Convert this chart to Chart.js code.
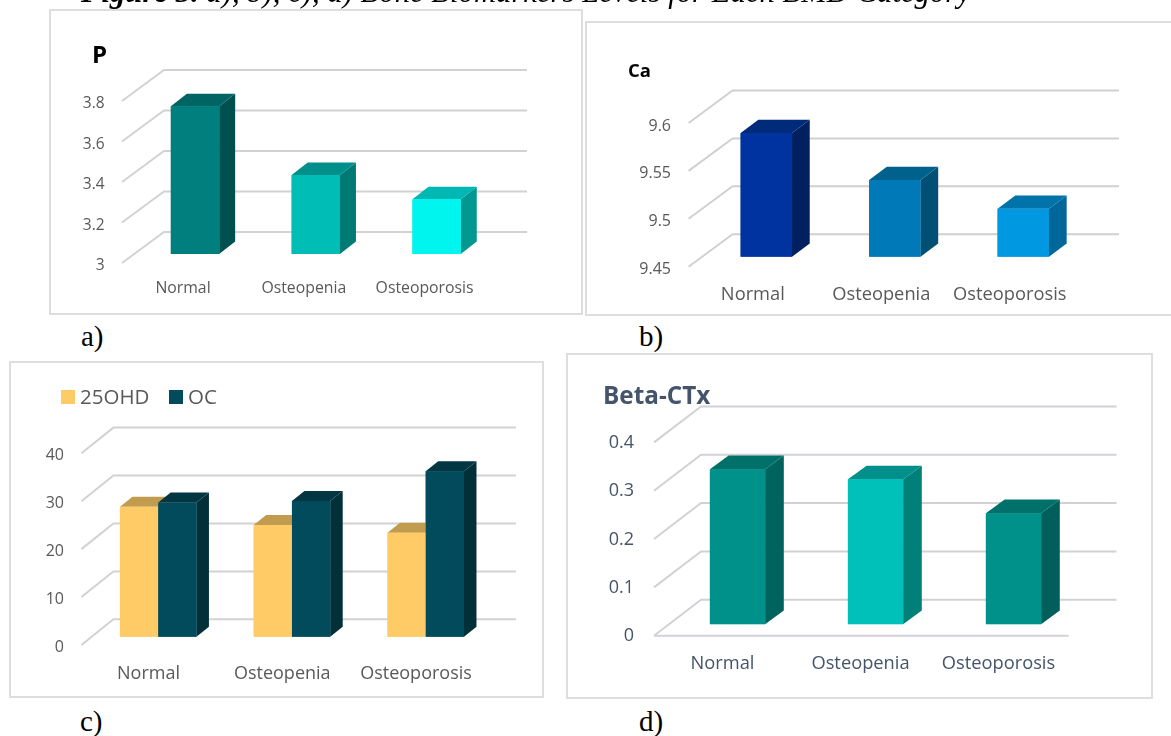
<!DOCTYPE html>
<html>
<head>
<meta charset="utf-8">
<script src="https://cdn.jsdelivr.net/npm/chart.js@4"></script>
<style>
  html, body { margin: 0; padding: 0; background: #fff; overflow: hidden; }
  #pagina { position: relative; width: 1171px; height: 736px; overflow: hidden; }
  .tarjeta { position: absolute; box-sizing: border-box; border: 2px solid #dedede; background: #fff; }
  .tarjeta canvas { position: absolute; left: -2px; top: -2px; }
  .texto { position: absolute; font-family: "Liberation Serif", serif; color: #000; white-space: nowrap; }
</style>
</head>
<body>
<div id="pagina">
  <div class="tarjeta" id="t0"><canvas id="graficoP"></canvas></div>
  <div class="tarjeta" id="t1"><canvas id="graficoCa"></canvas></div>
  <div class="tarjeta" id="t2"><canvas id="graficoVitD"></canvas></div>
  <div class="tarjeta" id="t3"><canvas id="graficoCtx"></canvas></div>
  <div class="texto" style="left:81px;top:-25px;font-size:30.7px;font-style:italic"><b>Figure 3.</b> a), b), c), d) Bone Biomarkers Levels for Each BMD Category</div>
  <div class="texto" style="left:81px;top:320px;font-size:29px">a)</div>
  <div class="texto" style="left:639px;top:320px;font-size:29px">b)</div>
  <div class="texto" style="left:80px;top:705px;font-size:29px">c)</div>
  <div class="texto" style="left:639px;top:705px;font-size:29px">d)</div>
</div>
<script>
  // Datos
  const categorias = ['Normal', 'Osteopenia', 'Osteoporosis'];

  const valoresP = [3.73, 3.39, 3.27];
  const ticksP = [3, 3.2, 3.4, 3.6, 3.8];

  const valoresCa = [9.579, 9.53, 9.5];
  const ticksCa = [9.45, 9.5, 9.55, 9.6];

  const valores25OHD = [27.1, 23.3, 21.7];
  const valoresOC = [28, 28.3, 34.5];
  const ticksVitD = [0, 10, 20, 30, 40];

  const valoresCtx = [0.321, 0.30, 0.23];
  const ticksCtx = [0, 0.1, 0.2, 0.3, 0.4];

  // Cara frontal, superior y lateral de cada barra
  const coloresP = { frente: ['#007f7f', '#00bdb6', '#00f5ee'], arriba: ['#006464', '#008f8a', '#00b8b3'], lado: ['#005050', '#007a74', '#009890'] };
  const coloresCa = { frente: ['#0033a0', '#0079b8', '#0098e0'], arriba: ['#002a7a', '#00628c', '#0073aa'], lado: ['#002060', '#005075', '#00679a'] };
  const colores25OHD = { frente: ['#fecb66', '#fecb66', '#fecb66'], arriba: ['#c19c4e', '#c19c4e', '#c19c4e'], lado: ['#c19c4e', '#c19c4e', '#c19c4e'] };
  const coloresOC = { frente: ['#024b5c', '#024b5c', '#024b5c'], arriba: ['#013642', '#013642', '#013642'], lado: ['#013039', '#013039', '#013039'] };
  const coloresCtx = { frente: ['#00918a', '#00c0ba', '#00918a'], arriba: ['#007069', '#008f8a', '#00706a'], lado: ['#00635e', '#008079', '#005f5b'] };

  // Dibuja la profundidad: paredes antes de las barras, caras despues
  const plugin3d = {
    id: 'caja3d',
    afterLayout(chart, args, op) {
      // El titulo va alineado a su propia x, no al borde del canvas
      if (chart.titleBlock && op.xTitulo) chart.titleBlock.left = op.xTitulo;
    },
    beforeDatasetsDraw(chart, args, op) {
      const ctx = chart.ctx;
      const escala = chart.scales.y;
      ctx.save();
      ctx.lineWidth = 2;
      ctx.strokeStyle = op.colorRejilla;
      op.marcas.forEach(v => {
        const y = escala.getPixelForValue(v) + op.bajada;
        ctx.beginPath();
        ctx.moveTo(op.xFrente, y);
        ctx.lineTo(op.xFrente + op.paredX, y - op.paredY);
        ctx.lineTo(op.xFin, y - op.paredY);
        ctx.stroke();
      });
      if (op.xSuelo) {
        const y0 = escala.getPixelForValue(op.marcas[0]) + op.bajada;
        ctx.beginPath();
        ctx.moveTo(op.xFrente, y0);
        ctx.lineTo(op.xSuelo, y0);
        ctx.stroke();
      }
      ctx.restore();
    },
    afterDatasetsDraw(chart, args, op) {
      const ctx = chart.ctx;
      chart.data.datasets.forEach((ds, d) => {
        const barras = chart.getDatasetMeta(d).data;
        const caras = op.caras[d];
        barras.forEach((barra, i) => {
          const p = barra.getProps(['x', 'y', 'base', 'width']);
          const izq = p.x - p.width / 2;
          const der = p.x + p.width / 2;
          ctx.fillStyle = caras.lado[i];
          ctx.beginPath();
          ctx.moveTo(der, p.y);
          ctx.lineTo(der + op.barraX, p.y - op.barraY);
          ctx.lineTo(der + op.barraX, p.base - op.barraY);
          ctx.lineTo(der, p.base);
          ctx.closePath();
          ctx.fill();
          ctx.fillStyle = caras.arriba[i];
          ctx.beginPath();
          ctx.moveTo(izq, p.y);
          ctx.lineTo(izq + op.barraX, p.y - op.barraY);
          ctx.lineTo(der + op.barraX, p.y - op.barraY);
          ctx.lineTo(der, p.y);
          ctx.closePath();
          ctx.fill();
          barra.draw(ctx);
        });
      });
      // Leyenda de la grafica c
      if (op.leyenda) {
        const l = op.leyenda;
        ctx.save();
        ctx.font = l.fuente + ' "Open Sans", sans-serif';
        ctx.textBaseline = 'middle';
        chart.data.datasets.forEach((ds, d) => {
          ctx.fillStyle = op.caras[d].frente[0];
          ctx.fillRect(l.x[d], l.y, l.lado, l.lado);
          ctx.fillStyle = l.color;
          ctx.fillText(ds.label, l.x[d] + l.lado + l.hueco, l.y + l.lado / 2 + 1);
        });
        ctx.restore();
      }
    }
  };

  const crearGrafico = (idCanvas, idTarjeta, cfg) => {
    const t = cfg.tarjeta, a = cfg.area;
    const tarjeta = document.getElementById(idTarjeta);
    tarjeta.style.left = t.x + 'px';
    tarjeta.style.top = t.y + 'px';
    tarjeta.style.width = t.w + 'px';
    tarjeta.style.height = t.h + 'px';

    const canvas = document.getElementById(idCanvas);
    canvas.width = t.w;
    canvas.height = t.h;
    canvas.style.width = t.w + 'px';
    canvas.style.height = t.h + 'px';

    const titulo = cfg.titulo;
    const altoTitulo = titulo ? titulo.tam * 1.2 : 0;
    const arribaTitulo = titulo ? titulo.yCentro - t.y - altoTitulo / 2 : a.arriba - t.y;
    const opcionesPlugin = Object.assign({}, cfg.p3d, {
      xFrente: cfg.p3d.xFrente - t.x,
      xFin: cfg.p3d.xFin - t.x,
      xSuelo: cfg.p3d.xSuelo ? cfg.p3d.xSuelo - t.x : 0,
      xTitulo: titulo ? titulo.x - t.x : 0,
      marcas: cfg.marcas,
      caras: cfg.series.map(s => s.caras),
      leyenda: cfg.leyenda ? Object.assign({}, cfg.leyenda, { x: cfg.leyenda.x.map(v => v - t.x), y: cfg.leyenda.y - t.y }) : null
    });

    new Chart(canvas, {
      type: 'bar',
      data: {
        labels: categorias,
        datasets: cfg.series.map(s => ({
          label: s.nombre,
          data: s.valores,
          base: cfg.marcas[0],
          backgroundColor: s.caras.frente,
          categoryPercentage: cfg.anchoGrupo,
          barPercentage: 1
        }))
      },
      options: {
        responsive: false,
        animation: false,
        events: [],
        layout: {
          padding: {
            left: 0,
            top: arribaTitulo,
            right: t.x + t.w - a.der,
            bottom: 0
          }
        },
        scales: {
          x: {
            grid: { display: false },
            border: { display: false },
            ticks: {
              color: cfg.colorTexto,
              font: { family: '"Open Sans", sans-serif', size: cfg.tamX },
              labelOffset: cfg.despX,
              maxRotation: 0,
              autoSkip: false,
              padding: cfg.rellenoX
            },
            afterFit: s => { s.height = t.y + t.h - a.abajo; }
          },
          y: {
            min: cfg.marcas[0],
            max: cfg.marcas[cfg.marcas.length - 1],
            grid: { display: false, drawTicks: false },
            border: { display: false },
            afterBuildTicks: s => { s.ticks = cfg.marcas.map(value => ({ value })); },
            ticks: {
              color: cfg.colorTexto,
              font: { family: '"Open Sans", sans-serif', size: cfg.tamY },
              labelOffset: cfg.p3d.bajada + cfg.ajusteY,
              callback: v => String(v),
              padding: a.izq - cfg.xTexto
            },
            afterFit: s => { s.width = a.izq - t.x; }
          }
        },
        plugins: {
          legend: { display: false },
          tooltip: { enabled: false },
          title: {
            display: !!titulo,
            text: titulo ? titulo.texto : '',
            align: 'start',
            color: titulo ? titulo.color : '#000',
            font: { family: '"Open Sans", sans-serif', size: titulo ? titulo.tam : 12, weight: 'bold', lineHeight: 1.2 },
            padding: { top: 0, bottom: titulo ? a.arriba - titulo.yCentro - altoTitulo / 2 : 0 }
          },
          caja3d: opcionesPlugin
        }
      },
      plugins: [plugin3d]
    });
  };

  crearGrafico('graficoP', 't0', {
    tarjeta: { x: 49, y: 9, w: 534, h: 306 },
    area: { izq: 134.6, der: 497, arriba: 92, abajo: 254 },
    titulo: { texto: 'P', x: 92, yCentro: 56.5, tam: 24, color: '#000000' },
    series: [{ nombre: 'P', valores: valoresP, caras: coloresP }],
    marcas: ticksP,
    anchoGrupo: 0.4,
    colorTexto: '#595959',
    xTexto: 104.6,
    tamX: 15.8, tamY: 15.5, despX: -12, rellenoX: 17, ajusteY: 3,
    p3d: { colorRejilla: '#d2d2d2', bajada: 9, xFrente: 122, paredX: 42, paredY: 31, xFin: 527, barraX: 16, barraY: 12.5 }
  });

  crearGrafico('graficoCa', 't1', {
    tarjeta: { x: 585, y: 21, w: 590, h: 295 },
    area: { izq: 702.1, der: 1087.5, arriba: 113, abajo: 256.7 },
    titulo: { texto: 'Ca', x: 628, yCentro: 71.5, tam: 18.5, color: '#000000' },
    series: [{ nombre: 'Ca', valores: valoresCa, caras: coloresCa }],
    marcas: ticksCa,
    anchoGrupo: 0.4,
    colorTexto: '#595959',
    xTexto: 671,
    tamX: 18.3, tamY: 16, despX: -13.5, rellenoX: 19, ajusteY: 3,
    p3d: { colorRejilla: '#d0d0d0', bajada: 10, xFrente: 688.6, paredX: 44, paredY: 32.5, xFin: 1119, barraX: 17.7, barraY: 13.3 }
  });

  crearGrafico('graficoVitD', 't2', {
    tarjeta: { x: 9, y: 361, w: 535, h: 337 },
    area: { izq: 91.3, der: 492.6, arriba: 445, abajo: 636.7 },
    series: [
      { nombre: '25OHD', valores: valores25OHD, caras: colores25OHD },
      { nombre: 'OC', valores: valoresOC, caras: coloresOC }
    ],
    marcas: ticksVitD,
    anchoGrupo: 0.572,
    colorTexto: '#595959',
    xTexto: 64,
    tamX: 18, tamY: 16, despX: -9.7, rellenoX: 18, ajusteY: 2.5,
    leyenda: { x: [61, 169], y: 390, lado: 14, hueco: 5, fuente: '20.5px', color: '#595959' },
    p3d: { colorRejilla: '#d2d2d2', bajada: 8.3, xFrente: 81.4, paredX: 32, paredY: 25.7, xFin: 516, barraX: 12.5, barraY: 10 }
  });

  crearGrafico('graficoCtx', 't3', {
    tarjeta: { x: 566, y: 353, w: 587, h: 346 },
    area: { izq: 668.5, der: 1082.5, arriba: 431, abajo: 624.3 },
    titulo: { texto: 'Beta-CTx', x: 603, yCentro: 397, tam: 24.3, color: '#44546a' },
    series: [{ nombre: 'Beta-CTx', valores: valoresCtx, caras: coloresCtx }],
    marcas: ticksCtx,
    anchoGrupo: 0.4,
    colorTexto: '#44546a',
    xTexto: 634,
    tamX: 18.3, tamY: 18, despX: -15, rellenoX: 21, ajusteY: 0.5,
    p3d: { colorRejilla: '#d0d2d6', bajada: 11.4, xFrente: 654, paredX: 47, paredY: 36, xFin: 1116.5, xSuelo: 1068.6, barraX: 18.7, barraY: 13.7 }
  });
</script>
</body>
</html>
